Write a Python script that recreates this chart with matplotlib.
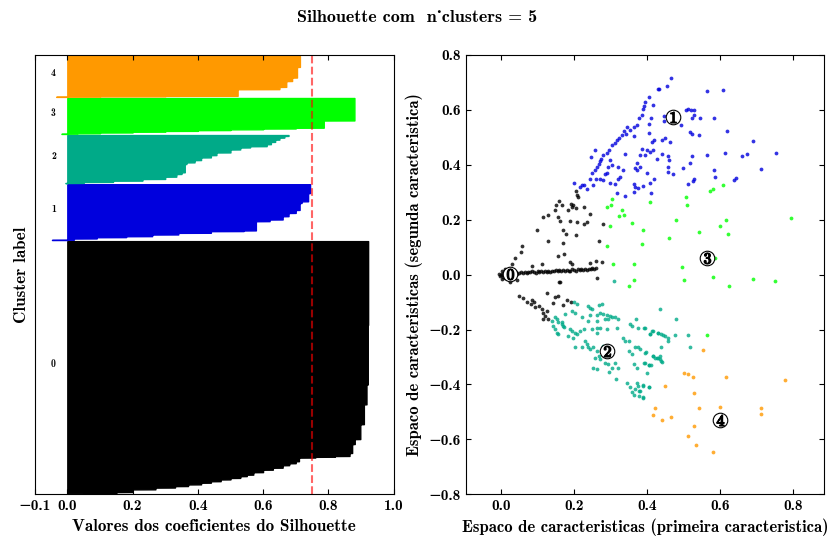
import numpy as np
import matplotlib
matplotlib.use('Agg')
import matplotlib.pyplot as plt
import matplotlib.cm as cm

plt.rcParams['font.family'] = ['cmb10', 'DejaVu Serif']
plt.rcParams['mathtext.fontset'] = 'cm'
plt.rcParams['axes.unicode_minus'] = True
plt.rcParams['xtick.direction'] = 'in'
plt.rcParams['ytick.direction'] = 'in'
plt.rcParams['xtick.top'] = True
plt.rcParams['ytick.right'] = True

n_clusters = 5
silhouette_avg = 0.75

# silhouette values per cluster (sorted ascending) and how many samples share each value
sil_values = [
    [0.05, 0.15, 0.20, 0.27, 0.33, 0.37, 0.41, 0.44, 0.47, 0.50, 0.53, 0.55, 0.57,
     0.60, 0.63, 0.66, 0.68, 0.70, 0.71, 0.76, 0.82, 0.865, 0.873, 0.881, 0.898,
     0.909, 0.917, 0.921, 0.922],
    [-0.047, 0.02, 0.09, 0.18, 0.26, 0.34, 0.44, 0.54, 0.578, 0.62, 0.66, 0.678,
     0.70, 0.712, 0.718, 0.738, 0.744],
    [-0.006, 0.05, 0.14, 0.23, 0.30, 0.334, 0.35, 0.36, 0.365, 0.39, 0.41, 0.44,
     0.457, 0.50, 0.53, 0.56, 0.611, 0.624, 0.637, 0.65, 0.665, 0.678],
    [-0.018, 0.03, 0.10, 0.20, 0.30, 0.40, 0.50, 0.60, 0.70, 0.786, 0.88],
    [-0.034, 0.10, 0.30, 0.522, 0.65, 0.671, 0.689, 0.704, 0.713],
]
sil_counts = [
    [3, 10, 27, 18, 15, 17, 17, 15, 18, 15, 18, 15, 25, 25, 20, 25, 20, 20, 37,
     8, 8, 30, 90, 50, 150, 200, 200, 600, 844],
    [3, 13, 13, 10, 17, 17, 17, 7, 93, 17, 33, 33, 30, 70, 17, 83, 90],
    [2, 10, 13, 17, 23, 27, 17, 83, 17, 23, 27, 23, 27, 30, 20, 13, 20, 23, 23,
     20, 17, 10],
    [3, 4, 8, 8, 8, 8, 8, 8, 8, 73, 227],
    [3, 3, 5, 67, 23, 59, 35, 107, 110],
]

# feature space points per cluster (first, second feature)
x0 = [0.205, 0.209, 0.212, 0.191, 0.194, 0.198, 0.205, 0.160, 0.151, 0.166, 0.148,
      0.184, 0.226, 0.244, 0.130, 0.116, 0.157, 0.162, 0.235, 0.227, 0.209, 0.189,
      0.098, 0.171, 0.178, 0.205, 0.130, 0.171, 0.269, 0.278, 0.058, 0.054, 0.038,
      0.173, 0.157, 0.189, 0.194, 0.244, 0.260, 0.276, 0.262, 0.159, 0.084, 0.029,
      0.111,
      0.010, 0.015, 0.020, 0.025, 0.030, 0.035, 0.040, 0.045, 0.050, 0.055, 0.060,
      0.065, 0.070, 0.075, 0.080, 0.085, 0.090, 0.095, 0.100, 0.105, 0.110, 0.115,
      0.120, 0.125, 0.130, 0.135, 0.140, 0.145, 0.150, 0.155, 0.160, 0.165, 0.170,
      0.175, 0.180, 0.185, 0.190, 0.195, 0.200, 0.205, 0.210, 0.215, 0.220, 0.225,
      0.230, 0.235, 0.240, 0.245, 0.250, 0.255, 0.260,
      -0.005, 0.000, 0.003, -0.003, 0.006, 0.008, 0.002, 0.012, 0.018, 0.004, 0.025,
      0.010, 0.022,
      0.050, 0.059, 0.072, 0.084, 0.090, 0.081, 0.093, 0.105, 0.111, 0.116, 0.121,
      0.125, 0.114, 0.130, 0.143, 0.148, 0.157, 0.127, 0.162, 0.180, 0.191, 0.169,
      0.025, 0.043]
y0 = [0.303, 0.291, 0.282, 0.258, 0.246, 0.252, 0.244, 0.268, 0.252, 0.252, 0.236,
      0.236, 0.246, 0.222, 0.216, 0.209, 0.209, 0.197, 0.191, 0.185, 0.191, 0.197,
      0.161, 0.164, 0.149, 0.144, 0.124, 0.116, 0.122, 0.185, 0.106, 0.082, 0.060,
      0.075, 0.069, 0.045, 0.039, 0.043, 0.049, 0.047, -0.013, -0.028, 0.033, 0.039,
      0.039,
      0.002, -0.004, 0.005, 0.001, 0.006, 0.003, 0.008, 0.004, 0.007, 0.010, 0.005,
      0.009, 0.006, 0.011, 0.008, 0.012, 0.009, 0.007, 0.012, 0.010, 0.014, 0.009,
      0.013, 0.011, 0.015, 0.010, 0.014, 0.012, 0.016, 0.013, 0.017, 0.012, 0.016,
      0.014, 0.018, 0.015, 0.013, 0.019, 0.016, 0.014, 0.019, 0.017, 0.021, 0.016,
      0.020, 0.018, 0.022, 0.019, 0.023, 0.020, 0.024,
      0.003, -0.002, 0.004, -0.005, -0.008, 0.010, 0.012, -0.012, -0.010, -0.015,
      -0.020, 0.020, 0.015,
      -0.077, -0.086, -0.101, -0.092, -0.099, -0.107, -0.119, -0.116, -0.125, -0.138,
      -0.150, -0.132, -0.162, -0.160, -0.104, -0.083, -0.079, -0.067, -0.028, -0.092,
      -0.101, -0.111, -0.028, -0.018]

x1 = [0.431, 0.404, 0.395, 0.392, 0.388, 0.385, 0.379, 0.415, 0.410, 0.404, 0.372,
      0.363, 0.353, 0.344, 0.337, 0.342, 0.331, 0.324, 0.317, 0.311, 0.303, 0.296,
      0.289, 0.280, 0.274, 0.271, 0.267, 0.262, 0.258, 0.248, 0.244, 0.247, 0.258,
      0.299, 0.321, 0.303, 0.294, 0.291, 0.285, 0.280, 0.271, 0.260, 0.235, 0.228,
      0.221, 0.216, 0.201, 0.253, 0.297, 0.312, 0.321, 0.326, 0.335, 0.340, 0.364,
      0.404, 0.419, 0.413, 0.385, 0.399, 0.408, 0.417, 0.395, 0.381, 0.372, 0.381,
      0.367, 0.372, 0.399, 0.419, 0.363, 0.367, 0.376, 0.388, 0.408, 0.410, 0.363,
      0.340, 0.317,
      0.465, 0.433, 0.454, 0.563, 0.609, 0.445, 0.445, 0.507, 0.513, 0.520, 0.529,
      0.527, 0.522, 0.545, 0.582, 0.493, 0.516, 0.522, 0.541, 0.618, 0.691, 0.440,
      0.449, 0.463, 0.442, 0.458, 0.461, 0.427, 0.522, 0.563, 0.612, 0.661, 0.673,
      0.753, 0.516, 0.497, 0.458, 0.458, 0.472, 0.584, 0.586, 0.637, 0.643, 0.711,
      0.527, 0.525, 0.513]
y1 = [0.676, 0.648, 0.627, 0.615, 0.602, 0.581, 0.572, 0.617, 0.572, 0.550, 0.544,
      0.536, 0.528, 0.538, 0.524, 0.511, 0.508, 0.498, 0.489, 0.480, 0.471, 0.453,
      0.443, 0.435, 0.423, 0.414, 0.404, 0.392, 0.380, 0.370, 0.349, 0.429, 0.453,
      0.416, 0.392, 0.398, 0.392, 0.370, 0.368, 0.343, 0.349, 0.349, 0.313, 0.325,
      0.325, 0.321, 0.335, 0.325, 0.335, 0.331, 0.349, 0.356, 0.382, 0.441, 0.505,
      0.516, 0.489, 0.483, 0.457, 0.453, 0.447, 0.453, 0.435, 0.435, 0.407, 0.392,
      0.390, 0.380, 0.370, 0.349, 0.331, 0.319, 0.315, 0.323, 0.334, 0.297, 0.301,
      0.285, 0.297,
      0.718, 0.676, 0.687, 0.670, 0.672, 0.577, 0.559, 0.599, 0.605, 0.599, 0.599,
      0.581, 0.571, 0.571, 0.572, 0.544, 0.518, 0.514, 0.508, 0.522, 0.487, 0.489,
      0.496, 0.483, 0.438, 0.431, 0.419, 0.420, 0.432, 0.437, 0.444, 0.433, 0.441,
      0.444, 0.407, 0.390, 0.392, 0.374, 0.368, 0.382, 0.356, 0.346, 0.353, 0.386,
      0.349, 0.340, 0.331]

x2 = [0.200, 0.209, 0.237, 0.244, 0.248, 0.267, 0.276, 0.271, 0.280, 0.289, 0.297,
      0.303, 0.312, 0.321, 0.285, 0.294, 0.262, 0.244, 0.221, 0.194, 0.203, 0.175,
      0.148, 0.153, 0.139, 0.157, 0.166, 0.171, 0.173, 0.143, 0.148, 0.153, 0.157,
      0.166, 0.189, 0.194, 0.203, 0.207, 0.198, 0.184, 0.216, 0.226, 0.239, 0.248,
      0.262, 0.271, 0.289, 0.317, 0.262, 0.230, 0.235, 0.239, 0.244, 0.253, 0.221,
      0.203, 0.262, 0.267, 0.258, 0.271, 0.285, 0.294, 0.303, 0.296, 0.312, 0.321,
      0.253, 0.262, 0.315, 0.333, 0.340, 0.349, 0.353, 0.358, 0.370, 0.376, 0.392,
      0.408, 0.416, 0.431, 0.349, 0.358, 0.367, 0.376, 0.395, 0.416, 0.426, 0.434,
      0.364, 0.372, 0.395, 0.406, 0.399, 0.344, 0.353, 0.367, 0.376, 0.390, 0.406,
      0.358, 0.363, 0.379, 0.379, 0.388, 0.372, 0.308, 0.262, 0.280,
      0.436, 0.479, 0.395, 0.413, 0.408, 0.431, 0.437, 0.443, 0.449, 0.456, 0.458,
      0.475, 0.511, 0.518, 0.437, 0.381, 0.397, 0.416, 0.422, 0.431, 0.436, 0.437,
      0.440, 0.392, 0.404, 0.410, 0.390, 0.406, 0.381, 0.388]
y2 = [-0.101, -0.106, -0.116, -0.122, -0.125, -0.111, -0.107, -0.138, -0.144, -0.147,
      -0.150, -0.156, -0.156, -0.162, -0.162, -0.162, -0.147, -0.147, -0.156, -0.132,
      -0.138, -0.144, -0.156, -0.162, -0.168, -0.174, -0.180, -0.186, -0.192, -0.186,
      -0.198, -0.211, -0.217, -0.174, -0.198, -0.205, -0.211, -0.217, -0.229, -0.223,
      -0.205, -0.199, -0.168, -0.199, -0.193, -0.193, -0.199, -0.193, -0.211, -0.241,
      -0.253, -0.265, -0.272, -0.265, -0.265, -0.265, -0.278, -0.296, -0.302, -0.308,
      -0.320, -0.327, -0.339, -0.354, -0.323, -0.339, -0.339, -0.342, -0.381, -0.229,
      -0.241, -0.241, -0.180, -0.186, -0.162, -0.193, -0.193, -0.217, -0.205, -0.211,
      -0.278, -0.290, -0.262, -0.265, -0.284, -0.296, -0.302, -0.308, -0.326, -0.339,
      -0.323, -0.330, -0.357, -0.393, -0.409, -0.418, -0.404, -0.404, -0.409, -0.429,
      -0.437, -0.424, -0.441, -0.448, -0.393, -0.022, -0.168, -0.259,
      -0.125, -0.162, -0.195, -0.205, -0.217, -0.213, -0.217, -0.219, -0.223, -0.229,
      -0.241, -0.220, -0.219, -0.263, -0.262, -0.271, -0.281, -0.296, -0.302, -0.304,
      -0.298, -0.314, -0.318, -0.323, -0.330, -0.330, -0.402, -0.409, -0.424, -0.446]

x3 = [0.303, 0.300, 0.289, 0.332, 0.338, 0.324, 0.299, 0.358, 0.390, 0.385, 0.289,
      0.306, 0.365, 0.364, 0.349, 0.408, 0.609, 0.579, 0.571, 0.507, 0.509, 0.479,
      0.616, 0.600, 0.620, 0.541, 0.460, 0.794, 0.586, 0.495, 0.500, 0.580, 0.690,
      0.751, 0.623, 0.565]
y3 = [0.274, 0.252, 0.246, 0.237, 0.219, 0.213, 0.177, 0.189, 0.161, 0.112, 0.104,
      0.037, 0.037, -0.019, -0.040, 0.264, 0.328, 0.313, 0.304, 0.282, 0.253, 0.200,
      0.200, 0.177, 0.149, 0.157, 0.133, 0.208, 0.060, 0.029, -0.019, -0.010, -0.016,
      -0.024, -0.040, -0.220]

x4 = [0.552, 0.502, 0.513, 0.525, 0.616, 0.778, 0.449, 0.529, 0.541, 0.600, 0.712,
      0.712, 0.422, 0.417, 0.440, 0.466, 0.527, 0.513, 0.534, 0.580]
y4 = [-0.275, -0.357, -0.363, -0.371, -0.371, -0.385, -0.406, -0.430, -0.487, -0.482,
      -0.487, -0.509, -0.487, -0.513, -0.531, -0.519, -0.553, -0.589, -0.619, -0.645]

centers_x = [0.026, 0.470, 0.291, 0.563, 0.600]
centers_y = [0.002, 0.575, -0.278, 0.060, -0.531]

fig = plt.figure(figsize=(8.34, 5.36), dpi=100)
ax1 = fig.add_axes([0.0416, 0.0778, 0.4303, 0.8196])
ax2 = fig.add_axes([0.5584, 0.0778, 0.4300, 0.8196])

n_total = sum(sum(c) for c in sil_counts)
ax1.set_xlim([-0.1, 1])
ax1.set_ylim([0, n_total + (n_clusters + 1) * 10])

y_lower = 10
for i in range(n_clusters):
    vals = np.repeat(sil_values[i], sil_counts[i])
    size_i = vals.shape[0]
    y_upper = y_lower + size_i
    color = cm.nipy_spectral(float(i) / n_clusters)
    ax1.fill_betweenx(np.arange(y_lower, y_upper), 0, vals,
                      facecolor=color, edgecolor=color, alpha=1.0)
    ax1.text(-0.05, y_lower + 0.5 * size_i, str(i), fontsize=7)
    y_lower = y_upper + 10

ax1.set_xlabel("Valores dos coeficientes do Silhouette", fontsize=12.3)
ax1.set_ylabel("Cluster label", fontsize=12.3)
ax1.axvline(x=silhouette_avg, color="red", linestyle="--", alpha=0.6, lw=1.5)
ax1.set_yticks([])
ax1.set_xticks([-0.1, 0, 0.2, 0.4, 0.6, 0.8, 1])
ax1.tick_params(labelsize=11)

xs = [x0, x1, x2, x3, x4]
ys = [y0, y1, y2, y3, y4]
for i in range(n_clusters):
    color = cm.nipy_spectral(float(i) / n_clusters)
    ax2.scatter(xs[i], ys[i], marker='.', s=30, lw=0, alpha=0.8, c=[color])

ax2.scatter(centers_x, centers_y, marker='o', c="white", alpha=1, s=110,
            edgecolor='k', lw=0.8)
for i in range(n_clusters):
    ax2.scatter(centers_x[i], centers_y[i], marker='$%d$' % i, alpha=1, s=60,
                edgecolor='k', c='k')

ax2.set_xlim([-0.0966, 0.885])
ax2.set_ylim([-0.8, 0.8])
ax2.set_xticks([0.0, 0.2, 0.4, 0.6, 0.8])
ax2.set_yticks([-0.8, -0.6, -0.4, -0.2, 0.0, 0.2, 0.4, 0.6, 0.8])
ax2.tick_params(labelsize=11)
ax2.set_xlabel("Espaco de caracteristicas (primeira caracteristica)", fontsize=12)
ax2.set_ylabel("Espaco de caracteristicas (segunda caracteristica)", fontsize=12)

fig.suptitle("Silhouette com  n_clusters = %d" % n_clusters, fontsize=13, y=0.982)

fig.savefig("out.png", dpi=100)
